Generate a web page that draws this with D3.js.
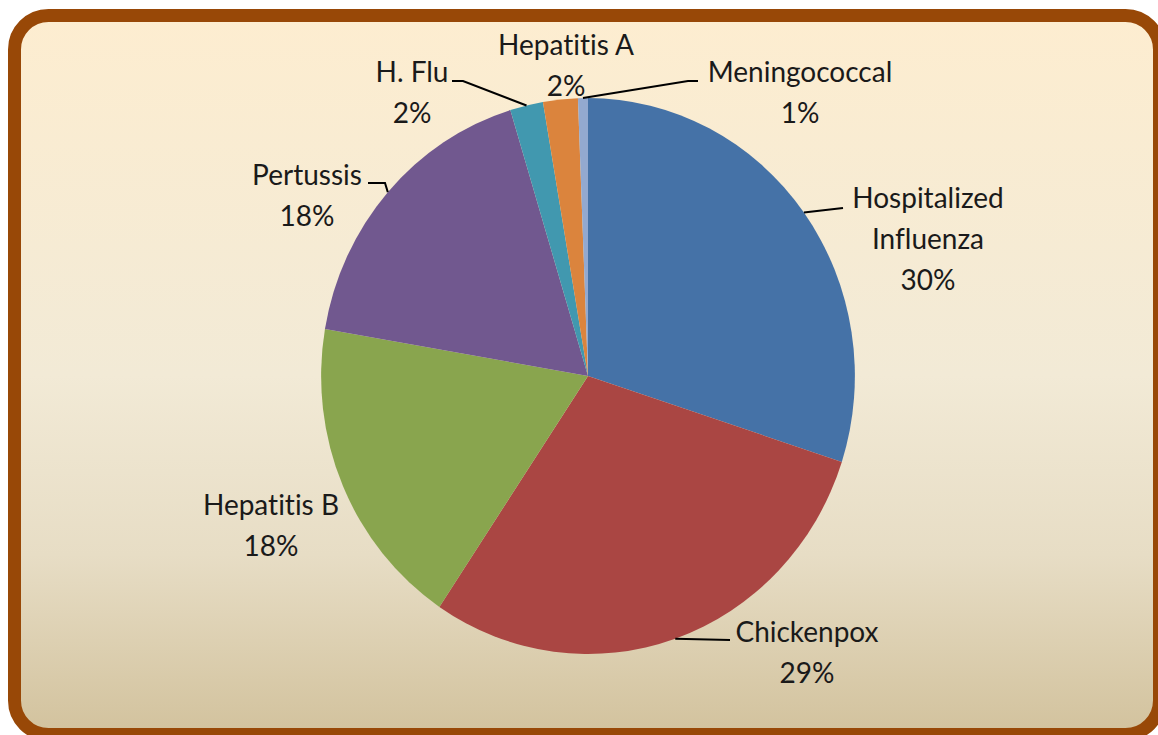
<!DOCTYPE html>
<html>
  <head>
    <title>Cases by disease</title>
    <script src="https://d3js.org/d3.v7.min.js"></script>
    <style>
        body { margin: 0; background: white; }
        svg { display: block; }
        text { font-family: Lato, "Open Sans", sans-serif; font-size: 28px; fill: #1a1a1a;
               font-variant-ligatures: none; font-feature-settings: "liga" 0, "clig" 0; }
    </style>
  </head>
  <body>
    <svg id="chart" width="1158" height="735"></svg>
  </body>
  <script>
    // data (share of cases, %)
    const diseases = ["Hospitalized Influenza", "Chickenpox", "Hepatitis B", "Pertussis", "H. Flu", "Hepatitis A", "Meningococcal"];
    const shares = [30.0, 29.4, 18.3, 17.6, 2.0, 2.1, 0.6];
    const labelLines = [["Hospitalized", "Influenza"], ["Chickenpox"], ["Hepatitis B"], ["Pertussis"], ["H. Flu"], ["Hepatitis A"], ["Meningococcal"]];
    const colors = ["#4572a7", "#aa4643", "#89a54e", "#71588f", "#4198af", "#db843d", "#93a9cf"];

    // label layout: centre x, first baseline y, and leader line bends (null = no leader)
    const labelPos = [[928, 208], [807, 642], [271, 515], [307, 185], [412, 82], [566, 55], [800, 82]];
    const leaders = [
        [[843, 208]],
        [[730, 640]],
        null,
        [[385, 183], [368, 183]],
        [[463, 81], [452, 81]],
        null,
        [[688, 81], [698, 81]]
    ];

    const W = 1158, H = 735;
    const cx = 588, cy = 376, R = 278, sx = 0.96;

    const svg = d3.select("#chart");

    // background with gradient + brown rounded frame
    const defs = svg.append("defs");
    const grad = defs.append("linearGradient")
        .attr("id", "bg").attr("x1", 0).attr("y1", 0).attr("x2", 0).attr("y2", 1);
    grad.append("stop").attr("offset", "0%").attr("stop-color", "#fdedd0");
    grad.append("stop").attr("offset", "50%").attr("stop-color", "#f2ead6");
    grad.append("stop").attr("offset", "75%").attr("stop-color", "#e7ddc5");
    grad.append("stop").attr("offset", "100%").attr("stop-color", "#d2c29d");

    svg.append("rect")
        .attr("x", 14.5).attr("y", 15.5)
        .attr("width", 1145).attr("height", 719)
        .attr("rx", 34).attr("ry", 34)
        .style("fill", "url(#bg)")
        .style("stroke", "#984807")
        .style("stroke-width", 13);

    const pie = d3.pie().sort(null).value(d => d);
    const arcs = pie(shares);
    const arc = d3.arc().innerRadius(0).outerRadius(R);

    const g = svg.append("g")
        .attr("transform", `translate(${cx},${cy}) scale(${sx},1)`);

    g.selectAll("path")
        .data(arcs)
        .enter()
        .append("path")
        .attr("d", arc)
        .style("fill", (d, i) => colors[i]);

    // point on the pie edge at a slice's middle angle
    function edgePoint(d) {
        const a = (d.startAngle + d.endAngle) / 2;
        return [cx + sx * R * Math.sin(a), cy - R * Math.cos(a)];
    }

    const line = d3.line();
    arcs.forEach((d, i) => {
        if (!leaders[i]) return;
        svg.append("path")
            .attr("d", line([edgePoint(d)].concat(leaders[i])))
            .style("fill", "none")
            .style("stroke", "black")
            .style("stroke-width", 2);
    });

    // labels
    arcs.forEach((d, i) => {
        const lines = labelLines[i].concat([Math.round(shares[i]) + "%"]);
        const t = svg.append("text")
            .attr("text-anchor", "middle");
        lines.forEach((s, k) => {
            t.append("tspan")
                .attr("x", labelPos[i][0])
                .attr("y", labelPos[i][1] + k * 41)
                .text(s);
        });
    });
  </script>
</html>
